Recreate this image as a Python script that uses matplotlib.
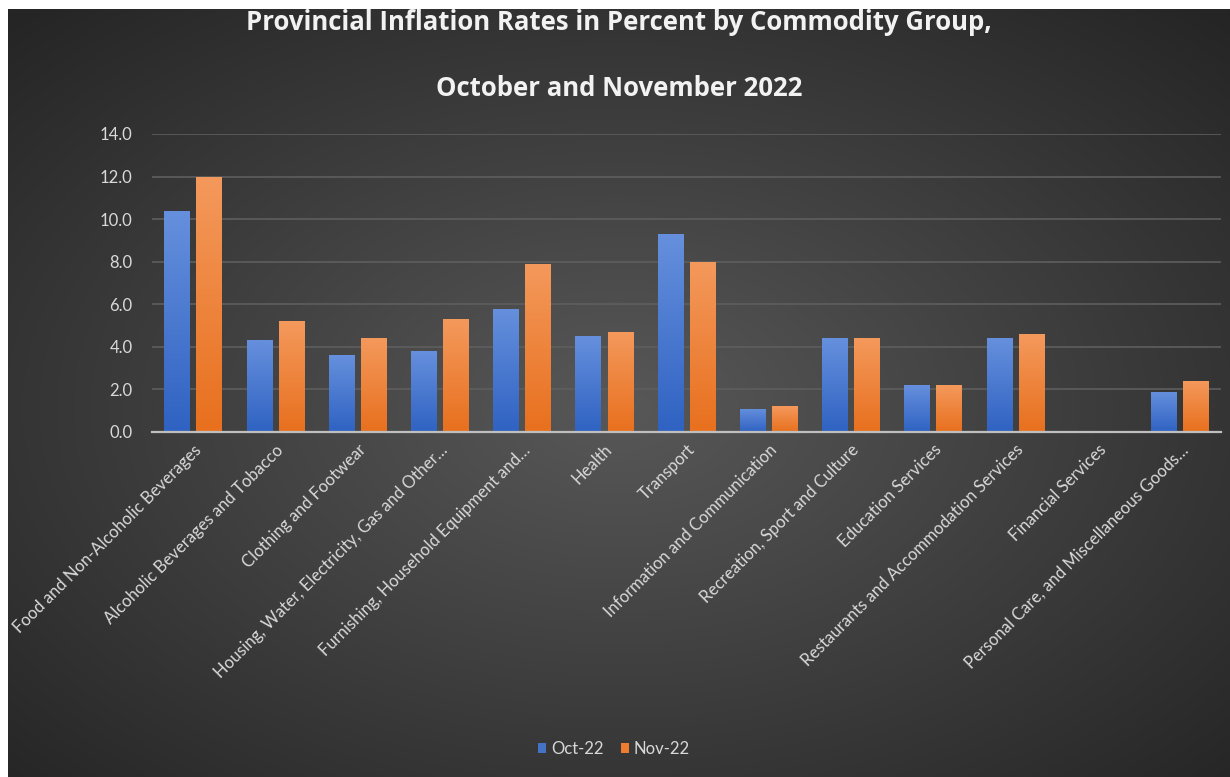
import numpy as np
import matplotlib.pyplot as plt
from matplotlib.patches import Patch

categories = [
    "Food and Non-Alcoholic Beverages",
    "Alcoholic Beverages and Tobacco",
    "Clothing and Footwear",
    "Housing, Water, Electricity, Gas and Other…",
    "Furnishing, Household Equipment and…",
    "Health",
    "Transport",
    "Information and Communication",
    "Recreation, Sport and Culture",
    "Education Services",
    "Restaurants and Accommodation Services",
    "Financial Services",
    "Personal Care, and Miscellaneous Goods…",
]
oct22 = [10.4, 4.3, 3.6, 3.8, 5.8, 4.5, 9.3, 1.1, 4.4, 2.2, 4.4, 0.0, 1.9]
nov22 = [12.0, 5.2, 4.4, 5.3, 7.9, 4.7, 8.0, 1.2, 4.4, 2.2, 4.6, 0.0, 2.4]
series_names = ["Oct-22", "Nov-22"]

plt.rcParams["font.family"] = ["Lato", "DejaVu Sans"]

W, H = 1230, 777
fig = plt.figure(figsize=(W / 100, H / 100), dpi=100)
fig.patch.set_facecolor("white")

# dark radial background of the chart area
bg = fig.add_axes([8 / W, 0, 1 - 8 / W, 1 - 9 / H])
bg.set_axis_off()
yy, xx = np.mgrid[0:1:300j, 0:1:480j]
r = np.sqrt(((xx - 0.5) / 0.75) ** 2 + ((yy - 0.52) / 0.75) ** 2)
r = np.clip(r / 0.95, 0, 1)
c0 = np.array([0x58, 0x58, 0x58]) / 255
c1 = np.array([0x25, 0x25, 0x25]) / 255
img = c0[None, None, :] * (1 - r[..., None]) + c1[None, None, :] * r[..., None]
bg.imshow(img, aspect="auto", extent=[0, 1, 0, 1], interpolation="bilinear")
bg.set_xlim(0, 1)
bg.set_ylim(0, 1)

ax = fig.add_axes([152 / W, 1 - 432 / H, (1221 - 152) / W, (432 - 134) / H])
ax.patch.set_alpha(0)

x = np.arange(len(categories))
bw = 0.31
off = 0.195
tops = [("#6690dd", "#2f62c2"), ("#f4995c", "#e8701e")]


def grad_bars(pos, vals, cols):
    bars = ax.bar(pos, vals, bw, color="none", edgecolor="none", zorder=3)
    g = np.linspace(0, 1, 100)[:, None]
    ct = np.array([int(cols[0][i:i + 2], 16) for i in (1, 3, 5)]) / 255
    cb = np.array([int(cols[1][i:i + 2], 16) for i in (1, 3, 5)]) / 255
    im = ct[None, None, :] * (1 - g[..., None]) + cb[None, None, :] * g[..., None]
    for b in bars:
        if b.get_height() <= 0:
            continue
        bx, bwid, bh = b.get_x(), b.get_width(), b.get_height()
        i = ax.imshow(im, extent=[bx, bx + bwid, 0, bh], aspect="auto", zorder=3)
        i.set_clip_path(b)
    return bars


grad_bars(x - off, oct22, tops[0])
grad_bars(x + off, nov22, tops[1])

ax.set_xlim(-0.5, len(categories) - 0.5)
ax.set_ylim(0, 14)
ax.set_yticks(np.arange(0, 14.1, 2))
ax.set_yticklabels([f"{v:.1f}" for v in np.arange(0, 14.1, 2)])
ax.grid(axis="y", color="#5e5e5e", linewidth=1.2, zorder=0)
ax.set_axisbelow(True)
for s in ["top", "right", "left"]:
    ax.spines[s].set_visible(False)
ax.spines["bottom"].set_color("#bfbfbf")
ax.spines["bottom"].set_linewidth(1.6)
ax.spines["bottom"].set_zorder(4)
ax.tick_params(axis="both", length=0, colors="#d9d9d9", labelsize=12)
ax.tick_params(axis="y", pad=14)
ax.set_xticks(x)
ax.set_xticklabels(categories, rotation=45, ha="right", rotation_mode="anchor",
                   fontsize=12)
ax.tick_params(axis="x", pad=7)

fig.text(0.5 + 4 / W, 1 - 23 / H, "Provincial Inflation Rates in Percent by Commodity Group,",
         ha="center", va="center", color="#f2f2f2", fontsize=18.5,
         fontweight="bold", family="Open Sans")
fig.text(0.5 + 4 / W, 1 - 88 / H, "October and November 2022",
         ha="center", va="center", color="#f2f2f2", fontsize=18.5,
         fontweight="bold", family="Open Sans")

handles = [Patch(facecolor="#4472c4"), Patch(facecolor="#ed7d31")]
fig.legend(handles, series_names, loc="center", bbox_to_anchor=(614 / W, 1 - 749 / H),
           ncol=2, frameon=False, fontsize=12, labelcolor="#d9d9d9",
           handlelength=0.5, handleheight=0.5, handletextpad=0.3, columnspacing=1.0)

fig.savefig("out.png", dpi=100)
